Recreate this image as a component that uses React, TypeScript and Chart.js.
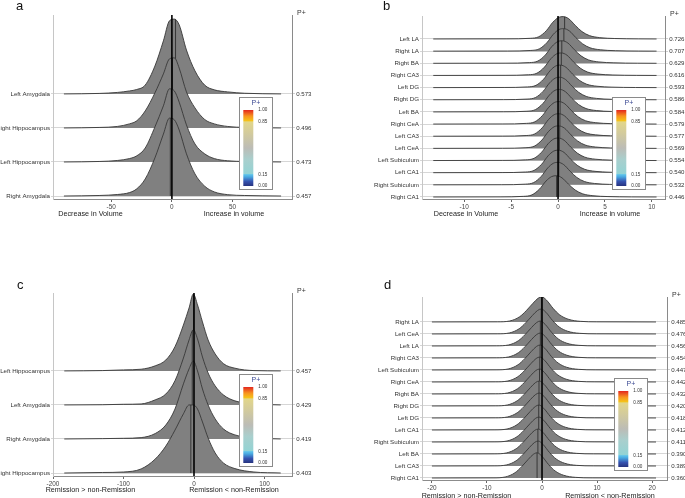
import React, { useEffect, useRef } from 'react';
import { Chart, registerables } from 'chart.js';
Chart.register(...registerables);

const W = 685;
const H = 498;
const FONT = '"Liberation Sans", Arial, Helvetica, sans-serif';

// ---------- Panel a ----------
const namesA = ['Left Amygdala', 'Right Hippocampus', 'Left Hippocampus', 'Right Amygdala'];
const pA = ['0.573', '0.496', '0.473', '0.457'];
const xTicksA = [-50, 0, 50];
const gridA = [-89, -60, -45, -35, -29, -22, -14, -7, -2, 2, 6, 12, 19, 27, 35, 46, 60, 90];
const leftAmygdalaA = [0, 0.015, 0.044, 0.088, 0.13, 0.26, 0.82, 1.56, 2.15, 2.2, 2.03, 1.29, 0.68, 0.26, 0.12, 0.06, 0.02, 0];
const rightHippocampusA = [0, 0.015, 0.044, 0.12, 0.21, 0.5, 1.03, 1.59, 2.03, 2.06, 1.76, 1.06, 0.59, 0.25, 0.12, 0.044, 0.015, 0];
const leftHippocampusA = [0, 0.015, 0.044, 0.1, 0.18, 0.41, 1.03, 1.65, 2.15, 2.09, 1.76, 1.09, 0.53, 0.24, 0.1, 0.035, 0.015, 0];
const rightAmygdalaA = [0, 0.015, 0.044, 0.1, 0.21, 0.5, 1.12, 1.82, 2.29, 2.24, 1.94, 1.24, 0.65, 0.29, 0.12, 0.04, 0.015, 0];
const medA = [3, 0.5, -0.5, -1.3];

// ---------- Panel b ----------
const namesB = ['Left LA', 'Right LA', 'Right BA', 'Right CA3', 'Left DG', 'Right DG', 'Left BA', 'Right CeA', 'Left CA3', 'Left CeA', 'Left Subiculum', 'Left CA1', 'Right Subiculum', 'Right CA1'];
const pB = ['0.726', '0.707', '0.629', '0.616', '0.593', '0.586', '0.584', '0.579', '0.577', '0.569', '0.554', '0.540', '0.532', '0.446'];
const xTicksB = [-10, -5, 0, 5, 10];
const rangeB = [-13.3, 10.5];
const modeB = [0.55, 0.6, 0.45, 0.35, 0.25, 0.2, 0.18, 0.12, 0.1, 0.08, 0.05, 0.04, 0, -0.18];
const peakB = [1.84, 1.85, 1.85, 1.85, 1.85, 1.85, 1.85, 1.85, 1.85, 1.85, 1.85, 1.85, 1.85, 1.75];
const medB = [0.7, 0.62, 0.4, 0.35, 0.28, 0.25, 0.24, 0.22, 0.2, 0.18, 0.14, 0.1, 0.08, -0.15];
const shapeOffB = [-6, -3.5, -2.6, -1.8, -1.1, -0.5, 0, 0.6, 1.3, 2.0, 2.8, 3.9, 5.5, 8];
const shapeFracB = [0.005, 0.03, 0.1, 0.37, 0.75, 0.96, 1, 0.9, 0.6, 0.33, 0.15, 0.06, 0.02, 0.004];

// ---------- Panel c ----------
const namesC = ['Left Hippocampus', 'Left Amygdala', 'Right Amygdala', 'Right Hippocampus'];
const pC = ['0.457', '0.429', '0.419', '0.403'];
const xTicksC = [-200, -100, 0, 100];
const gridC = [-184, -130, -100, -75, -55, -40, -27, -15, -7, -1, 5, 12, 20, 30, 42, 58, 85, 123];
const leftHippocampusC = [0, 0.01, 0.03, 0.05, 0.15, 0.32, 0.71, 1.35, 1.85, 2.26, 1.94, 1.44, 0.91, 0.5, 0.21, 0.08, 0.01, 0];
const leftAmygdalaC = [0, 0.006, 0.02, 0.03, 0.15, 0.32, 0.71, 1.38, 1.91, 2.21, 1.94, 1.41, 0.94, 0.56, 0.29, 0.12, 0.03, 0];
const rightAmygdalaC = [0, 0.01, 0.02, 0.04, 0.16, 0.41, 0.88, 1.62, 2.06, 2.29, 2.0, 1.47, 1.0, 0.59, 0.29, 0.12, 0.03, 0];
const rightHippocampusC = [0, 0.015, 0.03, 0.12, 0.41, 0.79, 1.26, 1.74, 2.0, 2.0, 1.88, 1.5, 1.03, 0.59, 0.29, 0.13, 0.03, 0];
const medC = [-0.5, -2.5, -2.5, -4.5];

// ---------- Panel d ----------
const namesD = ['Right LA', 'Left CeA', 'Left LA', 'Right CA3', 'Left Subiculum', 'Right CeA', 'Right BA', 'Right DG', 'Left DG', 'Left CA1', 'Right Subiculum', 'Left BA', 'Left CA3', 'Right CA1'];
const pD = ['0.485', '0.476', '0.456', '0.454', '0.447', '0.442', '0.432', '0.420', '0.418', '0.412', '0.411', '0.390', '0.389', '0.360'];
const xTicksD = [-20, -10, 0, 10, 20];
const rangeD = [-20, 20.7];
const modeD = [-0.05, -0.15, -0.3, -0.3, -0.35, -0.4, -0.45, -0.5, -0.5, -0.55, -0.55, -0.7, -0.7, -0.9];
const peakD = [2.1, 2.08, 2.08, 2.08, 2.08, 2.08, 2.08, 2.08, 2.08, 2.08, 2.08, 2.08, 2.08, 2.1];
const medD = [-0.1, -0.15, -0.3, -0.3, -0.35, -0.4, -0.45, -0.55, -0.55, -0.6, -0.6, -0.75, -0.75, -0.9];
const shapeOffD = [-8, -5.8, -4, -2.8, -1.6, -0.67, 0, 0.85, 2.06, 3.27, 4.8, 7, 10];
const shapeFracD = [0.005, 0.04, 0.21, 0.45, 0.74, 0.94, 1, 0.87, 0.54, 0.28, 0.11, 0.025, 0.005];

// colour bar
const barTickValues = [1, 0.85, 0.15, 0];
const barTickLabels = ['1.00', '0.85', '0.15', '0.00'];
const barStops: [number, string][] = [
  [0, '#27337f'], [0.06, '#3553b0'], [0.12, '#49a8e0'], [0.15, '#5fc3ea'], [0.16, '#93d3d4'],
  [0.35, '#a9cfcd'], [0.5, '#bcbcb6'], [0.7, '#d3cb9c'], [0.845, '#e2d68a'], [0.855, '#f5c518'],
  [0.92, '#f79320'], [1, '#e3261f'],
];

type Pt = { x: number; y: number };

function fromGrid(grid: number[], rows: number[][]): Pt[][] {
  return rows.map((h) => grid.map((x, i) => ({ x, y: h[i] })));
}
function fromShape(range: number[], modes: number[], peaks: number[], off: number[], frac: number[]): Pt[][] {
  return modes.map((m, r) => [
    { x: range[0], y: 0 },
    ...off.map((o, i) => ({ x: m + o, y: frac[i] * peaks[r] })),
    { x: range[1], y: 0 },
  ]);
}

const panels = [
  {
    letter: 'a', letterPos: [16, 9.5], area: { left: 53, right: 292, top: 15, bottom: 199 },
    xMin: -98, xMax: 99, xTicks: xTicksA, yMin: -0.088, yMax: 5.32,
    names: namesA, pvals: pA, medians: medA,
    curves: fromGrid(gridA, [leftAmygdalaA, rightHippocampusA, leftHippocampusA, rightAmygdalaA]),
    titles: [['Decrease in Volume', 90.5], ['Increase in volume', 234]], titleY: 214,
  },
  {
    letter: 'b', letterPos: [383, 9.5], area: { left: 422, right: 665, top: 16, bottom: 199 },
    xMin: -14.5, xMax: 11.4, xTicks: xTicksB, yMin: -0.165, yMax: 14.89,
    names: namesB, pvals: pB, medians: medB,
    curves: fromShape(rangeB, modeB, peakB, shapeOffB, shapeFracB),
    titles: [['Decrease in Volume', 466], ['Increase in volume', 610]], titleY: 214,
  },
  {
    letter: 'c', letterPos: [17, 288.5], area: { left: 53, right: 292, top: 293, bottom: 476 },
    xMin: -200, xMax: 139, xTicks: xTicksC, yMin: -0.088, yMax: 5.29,
    names: namesC, pvals: pC, medians: medC,
    curves: fromGrid(gridC, [leftHippocampusC, leftAmygdalaC, rightAmygdalaC, rightHippocampusC]),
    titles: [['Remission > non-Remission', 90.5], ['Remission < non-Remission', 234]], titleY: 490,
  },
  {
    letter: 'd', letterPos: [384, 288.5], area: { left: 422, right: 667, top: 297, bottom: 480 },
    xMin: -21.8, xMax: 22.7, xTicks: xTicksD, yMin: -0.167, yMax: 15.08,
    names: namesD, pvals: pD, medians: medD,
    curves: fromShape(rangeD, modeD, peakD, shapeOffD, shapeFracD),
    titles: [['Remission > non-Remission', 466.5], ['Remission < non-Remission', 610]], titleY: 496,
  },
];

function makeConfig(p: any): any {
  const N = p.names.length;
  const datasets: any[] = [];
  for (let j = N - 1; j >= 0; j--) {
    const base = N - 1 - j;
    datasets.push({
      data: p.curves[j].map((pt: Pt) => ({ x: pt.x, y: base + pt.y })),
      ridgeBase: base,
      ridgeMedian: p.medians[j],
      borderColor: '#383838',
      borderWidth: 0.9,
      backgroundColor: '#808080',
      fill: { value: base },
      pointRadius: 0,
      cubicInterpolationMode: 'monotone',
      yAxisID: 'y',
    });
  }
  const rowTicks = (s: any) => {
    s.ticks = p.names.map((_: string, i: number) => ({ value: i }));
  };
  const ridgePlugin = {
    id: 'ridge' + p.letter,
    afterDatasetDraw(chart: any, args: any) {
      const ds = chart.data.datasets[args.index];
      if (ds.ridgeMedian === undefined) return;
      const ctx = chart.ctx;
      const meta = args.meta;
      const pts = meta.data;
      const line = meta.dataset;
      const xs = chart.scales.x;
      const ys = chart.scales.y;
      const basePx = ys.getPixelForValue(ds.ridgeBase);
      ctx.save();
      ctx.beginPath();
      if (line && typeof line.path === 'function') {
        line.path(ctx);
      } else {
        ctx.moveTo(pts[0].x, pts[0].y);
        for (const q of pts) ctx.lineTo(q.x, q.y);
      }
      ctx.lineTo(pts[pts.length - 1].x, basePx);
      ctx.lineTo(pts[0].x, basePx);
      ctx.closePath();
      ctx.clip();
      const mx = xs.getPixelForValue(ds.ridgeMedian);
      ctx.beginPath();
      ctx.moveTo(mx, basePx);
      ctx.lineTo(mx, chart.chartArea.top);
      ctx.strokeStyle = '#2e2e2e';
      ctx.lineWidth = 0.9;
      ctx.stroke();
      ctx.restore();
    },
    afterDraw(chart: any) {
      const ctx = chart.ctx;
      const a = chart.chartArea;
      const xs = chart.scales.x;
      // zero line
      const zx = xs.getPixelForValue(0);
      ctx.save();
      ctx.beginPath();
      ctx.moveTo(zx, a.top);
      ctx.lineTo(zx, a.bottom);
      ctx.strokeStyle = '#000';
      ctx.lineWidth = 1.6;
      ctx.stroke();

      // colour bar legend
      const bx = a.right - 53;
      const by = a.bottom - 102;
      ctx.fillStyle = '#fff';
      ctx.fillRect(bx, by, 34, 93);
      ctx.strokeStyle = '#8a8a8a';
      ctx.lineWidth = 1;
      ctx.strokeRect(bx + 0.5, by + 0.5, 33, 92);
      ctx.fillStyle = '#3d4b94';
      ctx.font = `7px ${FONT}`;
      ctx.textAlign = 'center';
      ctx.textBaseline = 'middle';
      ctx.fillText('P+', bx + 17, by + 6.5);
      const barTop = by + 13;
      const barBot = by + 89;
      const g = ctx.createLinearGradient(0, barBot, 0, barTop);
      barStops.forEach(([v, c]) => g.addColorStop(v, c));
      ctx.fillStyle = g;
      ctx.fillRect(bx + 4.3, barTop, 10, barBot - barTop);
      ctx.fillStyle = '#333';
      ctx.font = `4.6px ${FONT}`;
      ctx.textAlign = 'left';
      barTickValues.forEach((v, i) => {
        const y = barBot - v * (barBot - barTop);
        ctx.fillText(barTickLabels[i], bx + 19.3, y);
      });

      // P+ header
      ctx.fillStyle = '#333';
      ctx.font = `7px ${FONT}`;
      ctx.textAlign = 'left';
      ctx.fillText('P+', a.right + 5, a.top - 2);

      // panel letter
      ctx.fillStyle = '#111';
      ctx.font = `13px ${FONT}`;
      ctx.textBaseline = 'alphabetic';
      ctx.fillText(p.letter, p.letterPos[0], p.letterPos[1]);

      // x titles
      ctx.fillStyle = '#222';
      ctx.font = `7.2px ${FONT}`;
      ctx.textAlign = 'center';
      ctx.textBaseline = 'middle';
      p.titles.forEach((t: any) => ctx.fillText(t[0], t[1], p.titleY));
      ctx.restore();
    },
  };

  return {
    type: 'line',
    data: { datasets },
    plugins: [ridgePlugin],
    options: {
      responsive: false,
      animation: false,
      events: [],
      layout: { padding: { top: p.area.top, left: 0, right: 0, bottom: 0 } },
      plugins: { legend: { display: false }, tooltip: { enabled: false } },
      scales: {
        x: {
          type: 'linear',
          position: 'bottom',
          min: p.xMin,
          max: p.xMax,
          afterBuildTicks: (s: any) => {
            s.ticks = p.xTicks.map((v: number) => ({ value: v }));
          },
          afterFit: (s: any) => {
            s.height = H - p.area.bottom;
          },
          ticks: { font: { family: FONT, size: 6.4 }, color: '#444', padding: 1, maxRotation: 0, autoSkip: false },
          grid: { drawOnChartArea: false, drawTicks: true, tickLength: 3, color: '#666' },
          border: { color: '#8c8c8c', width: 1 },
        },
        y: {
          type: 'linear',
          position: 'left',
          min: p.yMin,
          max: p.yMax,
          afterBuildTicks: rowTicks,
          afterFit: (s: any) => {
            s.width = p.area.left;
          },
          ticks: {
            font: { family: FONT, size: 6.2 },
            color: '#333',
            padding: 1,
            autoSkip: false,
            callback: (v: number) => p.names[N - 1 - v],
          },
          grid: { color: '#d6d6d6', lineWidth: 1, drawTicks: true, tickLength: 2, drawOnChartArea: true },
          border: { color: '#c6c6c6', width: 1 },
        },
        y2: {
          type: 'linear',
          position: 'right',
          min: p.yMin,
          max: p.yMax,
          afterBuildTicks: rowTicks,
          afterFit: (s: any) => {
            s.width = W - p.area.right;
          },
          ticks: {
            font: { family: FONT, size: 6.1 },
            color: '#333',
            padding: 1.2,
            autoSkip: false,
            callback: (v: number) => p.pvals[N - 1 - v],
          },
          grid: { color: '#d0d0d0', drawOnChartArea: false, drawTicks: true, tickLength: 3 },
          border: { color: '#8a8a8a', width: 1 },
        },
      },
    },
  };
}

function RidgePanel({ panel }: { panel: any }) {
  const ref = useRef<HTMLCanvasElement | null>(null);
  useEffect(() => {
    if (!ref.current) return;
    const chart = new Chart(ref.current, makeConfig(panel));
    return () => chart.destroy();
  }, [panel]);
  return (
    <canvas
      ref={ref}
      width={W}
      height={H}
      style={{ position: 'absolute', left: 0, top: 0, width: W, height: H }}
    />
  );
}

export default function App() {
  return (
    <div style={{ position: 'fixed', left: 0, top: 0, width: W, height: H, background: '#fff', overflow: 'hidden' }}>
      {panels.map((p) => (
        <RidgePanel key={p.letter} panel={p} />
      ))}
    </div>
  );
}
